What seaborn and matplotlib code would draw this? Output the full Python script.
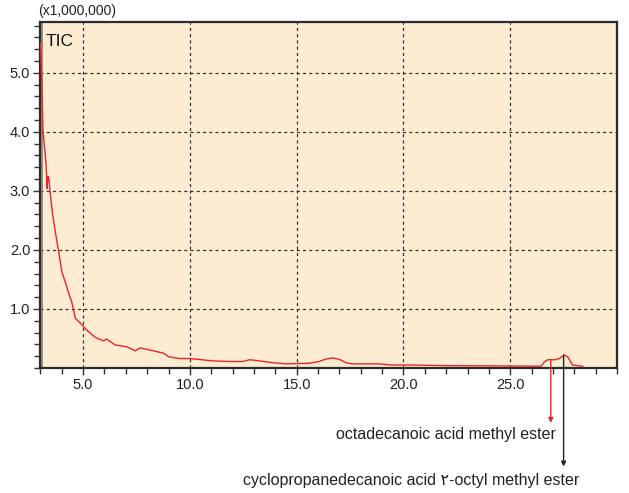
import numpy as np
import pandas as pd
import matplotlib
matplotlib.use("Agg")
import matplotlib.pyplot as plt
import seaborn as sns
from matplotlib.ticker import MultipleLocator

# --- data (retention time in min, intensity in 1e6 counts) ---
time_min = [3.00, 3.02, 3.05, 3.08, 3.12, 3.20, 3.27, 3.31, 3.35, 3.39, 3.47, 3.58,
            3.71, 3.86, 4.01, 4.17, 4.32, 4.48, 4.64, 4.87, 5.18, 5.56, 5.95, 6.10,
            6.50, 7.05, 7.44, 7.67, 8.30, 8.77, 9.00, 9.53, 10.0, 11.08, 11.87, 12.48,
            12.80, 13.27, 13.88, 14.50, 15.58, 16.05, 16.36, 16.67, 16.98, 17.30, 17.60,
            18.86, 19.47, 20.4, 22.0, 25.1, 26.44, 26.60, 26.75, 27.10, 27.30, 27.53,
            27.69, 27.92, 28.40]
intensity = [5.51, 5.30, 5.00, 4.60, 4.02, 3.71, 3.43, 3.04, 3.25, 3.22, 2.92, 2.58,
             2.28, 1.96, 1.62, 1.45, 1.27, 1.10, 0.84, 0.76, 0.64, 0.52, 0.46, 0.49,
             0.39, 0.36, 0.29, 0.34, 0.29, 0.25, 0.19, 0.16, 0.16, 0.12, 0.11, 0.11,
             0.14, 0.12, 0.09, 0.07, 0.08, 0.11, 0.15, 0.17, 0.15, 0.09, 0.07,
             0.07, 0.05, 0.05, 0.04, 0.034, 0.03, 0.10, 0.14, 0.14, 0.16, 0.22,
             0.19, 0.05, 0.03]

x_ticks = [5.0, 10.0, 15.0, 20.0, 25.0]
y_ticks = [1.0, 2.0, 3.0, 4.0, 5.0]

peak_names = ["octadecanoic acid methyl ester",
              "cyclopropanedecanoic acid \u06f2-octyl methyl ester"]
peak_times = [26.9, 27.5]
peak_heights = [0.14, 0.22]
peak_colors = ["#e8262a", "#222222"]

solvent_delay = 3.09

df = pd.DataFrame({"time": time_min, "intensity": intensity})

sns.set_style("ticks")
plt.rcParams["font.family"] = ["Liberation Sans", "DejaVu Sans"]

fig = plt.figure(figsize=(6.29, 4.93), dpi=100)
ax = fig.add_axes([40 / 629, 1 - 368 / 493, (617 - 40) / 629, (368 - 22) / 493])
ax.set_facecolor("#fdecd2")

ax.axvline(solvent_delay, color="#8a7a6a", lw=1.2, zorder=2)
sns.lineplot(data=df, x="time", y="intensity", ax=ax, color="#e8262a", lw=1.0,
             zorder=3, estimator=None, sort=False)

ax.set_xlim(2.98, 30.0)
ax.set_ylim(0, 5.86)
ax.set_xticks(x_ticks)
ax.set_yticks(y_ticks)
ax.set_xticklabels([f"{v:.1f}" for v in x_ticks])
ax.set_yticklabels([f"{v:.1f}" for v in y_ticks])
ax.xaxis.set_minor_locator(MultipleLocator(1.0))
ax.yaxis.set_minor_locator(MultipleLocator(0.2))
ax.tick_params(which="major", direction="out", length=5, width=1, color="#333333",
               labelsize=10.5, labelcolor="#222222", pad=2)
ax.tick_params(which="minor", direction="out", length=4, width=1, color="#333333")
ax.set_xlabel("")
ax.set_ylabel("")
ax.grid(True, which="major", color="#333333", lw=0.9, ls=(0, (2.5, 2.5)), zorder=1)
for s in ax.spines.values():
    s.set_visible(True)
    s.set_color("#2b2b2b")
    s.set_linewidth(1.6)

ax.text(0.01, 0.965, "TIC", transform=ax.transAxes, fontsize=12.5,
        ha="left", va="top", color="#111111")
fig.text(77 / 629, 1 - 11 / 493, "(x1,000,000)", fontsize=10, ha="center",
         va="center", color="#222222")

ends = [-0.93, -1.67]
for t, h, c, e in zip(peak_times, peak_heights, peak_colors, ends):
    ax.annotate("", xy=(t, e), xytext=(t, h), xycoords="data",
                arrowprops=dict(arrowstyle="-|>", color=c, lw=1.0, mutation_scale=7,
                                shrinkA=0, shrinkB=0), annotation_clip=False)

fig.text(446 / 629, 1 - 434 / 493, peak_names[0], fontsize=11.5, ha="center",
         va="center", color="#222222")
fig.text(411 / 629, 1 - 481 / 493, peak_names[1], fontsize=11.5, ha="center",
         va="center", color="#222222")

fig.savefig("out.png", dpi=100)
